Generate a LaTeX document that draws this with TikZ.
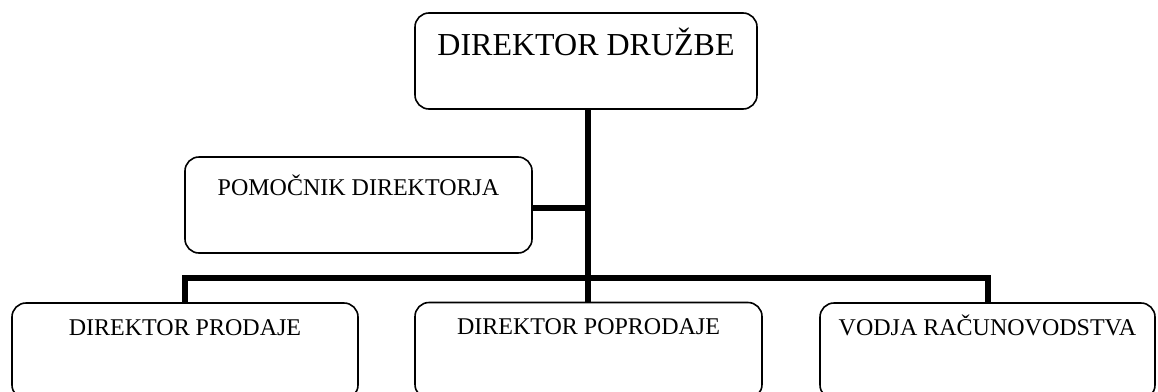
\documentclass[tikz,border=0pt]{standalone}
\usepackage{fontspec}
\setmainfont{Liberation Serif}
\begin{document}
\begin{tikzpicture}[x=1pt,y=-1pt,
  box/.style={draw, line width=1.6pt, rounded corners=14pt, inner sep=0pt, outer sep=0pt, minimum height=96pt},
  boxtext/.style={anchor=base, inner sep=0pt, font=\fontsize{24}{28}\selectfont},
  bigtext/.style={anchor=base, inner sep=0pt, font=\fontsize{32}{38}\selectfont},
  link/.style={line width=6pt, line join=miter, line cap=butt}]
\useasboundingbox (0,0) rectangle (1158,391);
\clip (0,0) rectangle (1158,391);

% boxes
\node[box, minimum width=342pt] (top) at (586,61) {};
\node[box, minimum width=347pt] (asst) at (358.5,205) {};
\node[box, minimum width=346pt] (sales) at (185,351) {};
\node[box, minimum width=347pt] (after) at (588.5,350.5) {};
\node[box, minimum width=335pt] (acct) at (987.5,351) {};

% titles
\node[bigtext] (ttop) at ([yshift=-42pt]top.north) {DIREKTOR DRUŽBE};
\node[boxtext] (tasst) at ([yshift=-38pt]asst.north) {POMOČNIK DIREKTORJA};
\node[boxtext] (tsales) at ([yshift=-32pt]sales.north) {DIREKTOR PRODAJE};
\node[boxtext] (tafter) at ([yshift=-32pt]after.north) {DIREKTOR POPRODAJE};
\node[boxtext] (tacct) at ([yshift=-32pt]acct.north) {VODJA RAČUNOVODSTVA};

% connectors: vertical trunk, assistant branch, lower bus with drops
\coordinate (bus) at (588,278);
\draw[link] (top.south -| bus) -- (after.north -| bus);
\draw[link] ([yshift=-3pt]asst.east) -- ([yshift=-3pt]asst.east -| bus);
\draw[link] (sales.north) -- (sales.north |- bus) -- (acct.north |- bus) -- (acct.north);
\end{tikzpicture}
\end{document}
